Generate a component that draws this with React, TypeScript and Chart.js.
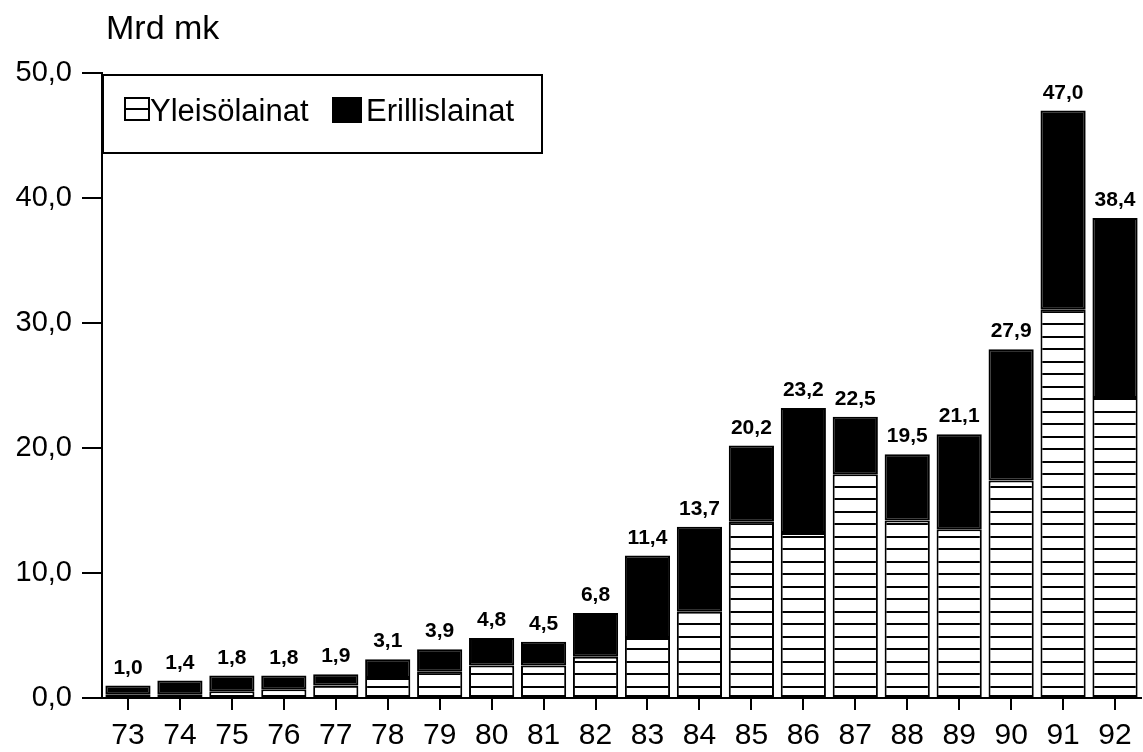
import React, { useEffect, useRef } from "react";
import { Chart, registerables } from "chart.js";

Chart.register(...registerables);

const years = ["73","74","75","76","77","78","79","80","81","82","83","84","85","86","87","88","89","90","91","92"];
const yleisolainat = [0.3,0.3,0.55,0.7,1.0,1.6,2.1,2.6,2.6,3.3,4.8,6.9,14.1,13.2,17.9,14.2,13.5,17.4,31.1,24.0];
const erillislainat = [0.7,1.1,1.25,1.1,0.9,1.5,1.8,2.2,1.9,3.5,6.6,6.8,6.1,10.0,4.6,5.3,7.6,10.5,15.9,14.4];
const totals = ["1,0","1,4","1,8","1,8","1,9","3,1","3,9","4,8","4,5","6,8","11,4","13,7","20,2","23,2","22,5","19,5","21,1","27,9","47,0","38,4"];
const seriesNames = ["Yleisölainat", "Erillislainat"];
const unitLabel = "Mrd mk";

const FONT = "'Liberation Sans', Arial, Helvetica, sans-serif";

function makePattern(): CanvasPattern | string {
  const c = document.createElement("canvas");
  c.width = 25;
  c.height = 25;
  const ctx = c.getContext("2d");
  if (!ctx) return "#fff";
  ctx.fillStyle = "#fff";
  ctx.fillRect(0, 0, 25, 25);
  ctx.fillStyle = "#000";
  ctx.fillRect(0, 11, 25, 2);
  ctx.fillRect(0, 23, 25, 2);
  return ctx.createPattern(c, "repeat") || "#fff";
}

export default function App() {
  const ref = useRef<HTMLCanvasElement | null>(null);

  useEffect(() => {
    document.body.style.margin = "0";
    const canvas = ref.current;
    if (!canvas) return;
    const pattern = makePattern();

    const overlay = {
      id: "overlay",
      afterDatasetsDraw(chart: any) {
        const ctx = chart.ctx;
        const xs = chart.scales.x;
        const ys = chart.scales.y;
        ctx.save();
        // value labels
        ctx.fillStyle = "#000";
        ctx.font = `bold 21px ${FONT}`;
        ctx.textAlign = "center";
        ctx.textBaseline = "alphabetic";
        years.forEach((_, i) => {
          const top = yleisolainat[i] + erillislainat[i];
          ctx.fillText(totals[i], xs.getPixelForValue(i), ys.getPixelForValue(top) - 12);
        });
        // unit title
        ctx.font = `34px ${FONT}`;
        ctx.textAlign = "left";
        ctx.fillText(unitLabel, 106, 39);
        // legend box
        const lx = 103;
        const ly = 75;
        const lw = 439;
        const lh = 78;
        ctx.fillStyle = "#fff";
        ctx.fillRect(lx, ly, lw, lh);
        ctx.strokeStyle = "#000";
        ctx.lineWidth = 2;
        ctx.strokeRect(lx, ly, lw, lh);
        // pattern swatch
        ctx.lineWidth = 2;
        ctx.strokeRect(125, 98, 24, 22);
        ctx.beginPath();
        ctx.moveTo(125, 109);
        ctx.lineTo(149, 109);
        ctx.stroke();
        ctx.fillStyle = "#000";
        ctx.font = `31px ${FONT}`;
        ctx.textBaseline = "alphabetic";
        ctx.fillText(seriesNames[0], 150, 121);
        ctx.fillRect(332, 97, 30, 26);
        ctx.fillText(seriesNames[1], 366, 121);
        ctx.restore();
      },
    };

    const chart = new Chart(canvas, {
      type: "bar",
      data: {
        labels: years,
        datasets: [
          {
            label: seriesNames[0],
            data: yleisolainat,
            backgroundColor: pattern as any,
            borderColor: "#000",
            borderWidth: 2,
            borderSkipped: false,
            barPercentage: 0.87,
            categoryPercentage: 1,
          },
          {
            label: seriesNames[1],
            data: erillislainat,
            backgroundColor: "#000",
            borderColor: "#000",
            borderWidth: 2,
            borderSkipped: false,
            barPercentage: 0.87,
            categoryPercentage: 1,
          },
        ],
      },
      options: {
        animation: false,
        responsive: false,
        devicePixelRatio: 1,
        layout: { padding: { left: 10, right: 2, top: 73, bottom: 0 } },
        plugins: { legend: { display: false }, tooltip: { enabled: false } },
        scales: {
          x: {
            stacked: true,
            offset: true,
            afterFit: (s: any) => { s.height = 54; },
            grid: { display: true, drawOnChartArea: false, offset: false, tickLength: 12, color: "#000", lineWidth: 2 },
            border: { display: true, color: "#000", width: 2 },
            ticks: { color: "#000", font: { family: FONT, size: 30 }, padding: 8, maxRotation: 0, autoSkip: false },
          },
          y: {
            stacked: true,
            min: 0,
            max: 50,
            afterFit: (s: any) => { s.width = 92; },
            grid: { display: true, drawOnChartArea: false, tickLength: 20, color: "#000", lineWidth: 2 },
            border: { display: true, color: "#000", width: 2 },
            ticks: {
              stepSize: 10,
              color: "#000",
              font: { family: FONT, size: 29 },
              padding: 10,
              callback: (v: any) => Number(v).toFixed(1).replace(".", ","),
            },
          },
        },
      },
      plugins: [overlay],
    });
    return () => chart.destroy();
  }, []);

  return (
    <div style={{ width: 1143, height: 752, background: "#fff" }}>
      <canvas ref={ref} width={1143} height={752} style={{ display: "block" }} />
    </div>
  );
}
